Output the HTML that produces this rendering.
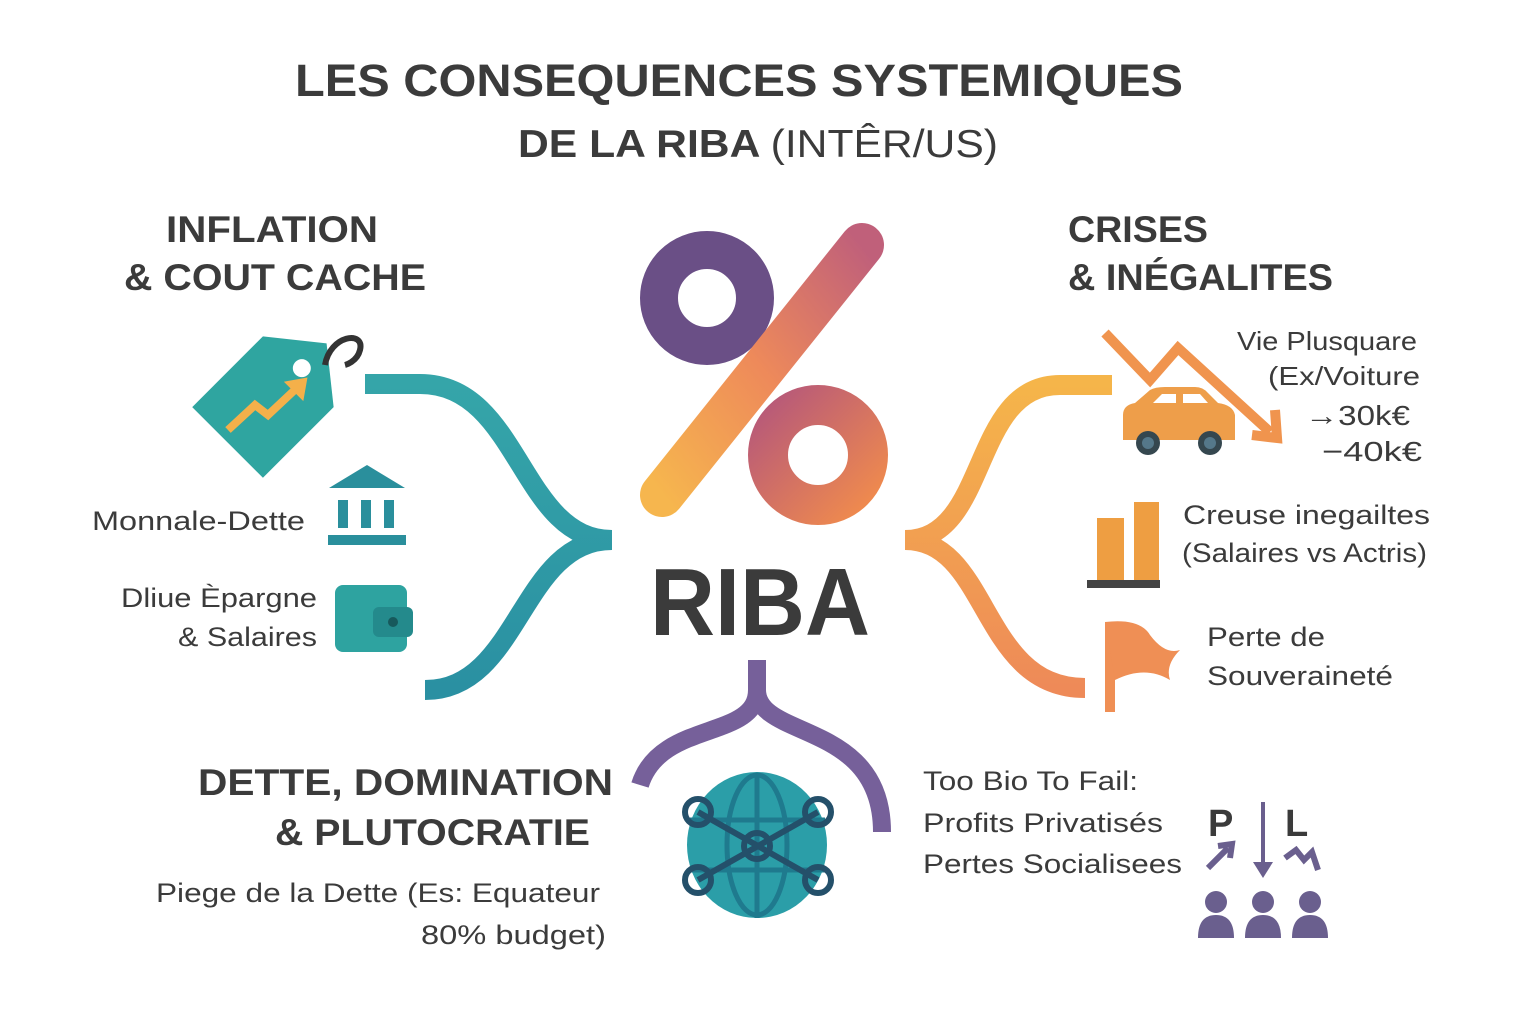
<!DOCTYPE html>
<html><head><meta charset="utf-8"><style>
html,body{margin:0;padding:0;background:#fff;}
svg{display:block}
text{font-family:"Liberation Sans","DejaVu Sans",sans-serif;fill:#3b3b3b}
</style></head><body>
<svg width="1536" height="1024" viewBox="0 0 1536 1024" xmlns="http://www.w3.org/2000/svg">
<defs>
<linearGradient id="sl" x1="0" y1="1" x2="1" y2="0"><stop offset="0" stop-color="#f6b64e"/><stop offset="0.5" stop-color="#ee8a5a"/><stop offset="1" stop-color="#c0607a"/></linearGradient>
<linearGradient id="c2" x1="0" y1="0" x2="1" y2="1"><stop offset="0" stop-color="#b85a78"/><stop offset="1" stop-color="#ef8a4e"/></linearGradient>
<linearGradient id="tl" x1="0" y1="0" x2="0" y2="1"><stop offset="0" stop-color="#35a5a9"/><stop offset="1" stop-color="#2a90a2"/></linearGradient>
<linearGradient id="or" x1="0" y1="0" x2="0" y2="1"><stop offset="0" stop-color="#f5b54a"/><stop offset="1" stop-color="#ee8a58"/></linearGradient>
</defs>

<text x="295" y="96" font-size="45" font-weight="bold" textLength="888" lengthAdjust="spacingAndGlyphs">LES CONSEQUENCES SYSTEMIQUES</text>
<text x="518" y="157" font-size="39" font-weight="bold" textLength="480" lengthAdjust="spacingAndGlyphs">DE LA RIBA <tspan font-weight="normal">(INTÊR/US)</tspan></text>

<text x="166" y="242" font-size="37" font-weight="bold" textLength="212" lengthAdjust="spacingAndGlyphs">INFLATION</text>
<text x="124" y="290" font-size="37" font-weight="bold" textLength="302" lengthAdjust="spacingAndGlyphs">&amp; COUT CACHE</text>
<text x="1068" y="242" font-size="37" font-weight="bold" textLength="140" lengthAdjust="spacingAndGlyphs">CRISES</text>
<text x="1068" y="290" font-size="37" font-weight="bold" textLength="265" lengthAdjust="spacingAndGlyphs">&amp; INÉGALITES</text>

<!-- percent -->
<circle cx="707" cy="298" r="48" fill="none" stroke="#6a4f86" stroke-width="38"/>
<line x1="662" y1="495" x2="862" y2="245" stroke="url(#sl)" stroke-width="44" stroke-linecap="round"/>
<circle cx="818" cy="455" r="50" fill="none" stroke="url(#c2)" stroke-width="40"/>
<text x="650" y="635" font-size="96" font-weight="bold" fill="#383838" textLength="220" lengthAdjust="spacingAndGlyphs">RIBA</text>

<!-- braces -->
<path d="M365 384 L420 384 C520 384 520 540 612 540 M612 540 C520 540 520 690 425 690" fill="none" stroke="url(#tl)" stroke-width="20"/>
<path d="M1112 385 L1060 385 C970 385 990 540 905 540 M905 540 C990 540 980 688 1085 688" fill="none" stroke="url(#or)" stroke-width="20"/>
<path d="M757 660 L757 690 C757 740 660 720 640 785 M757 690 C757 740 882 720 882 832" fill="none" stroke="#76609a" stroke-width="18"/>

<!-- tag -->
<g transform="rotate(-45 270 400)">
<path d="M210 350 L310 350 L350 400 L310 450 L210 450 Z" fill="#2fa5a0"/>
<circle cx="315" cy="400" r="9" fill="#fff"/>
</g>
<path d="M325 365 C330 335 365 330 360 350 C357 362 345 365 345 365" fill="none" stroke="#333" stroke-width="6"/>
<path d="M228 430 L255 405 L268 415 L300 385" fill="none" stroke="#f4b04a" stroke-width="8"/>
<path d="M288 383 L305 380 L302 397 Z" fill="#f4b04a" stroke="#f4b04a" stroke-width="4"/>

<!-- bank -->
<path d="M367 465 L405 488 L329 488 Z" fill="#2a8f9c"/>
<rect x="338" y="500" width="10" height="28" fill="#2a8f9c"/><rect x="361" y="500" width="10" height="28" fill="#2a8f9c"/><rect x="384" y="500" width="10" height="28" fill="#2a8f9c"/>
<rect x="328" y="535" width="78" height="10" fill="#2a8f9c"/>
<text x="92" y="530" font-size="27" textLength="213" lengthAdjust="spacingAndGlyphs">Monnale-Dette</text>

<!-- wallet -->
<rect x="335" y="585" width="72" height="67" rx="8" fill="#2ea3a0"/>
<rect x="373" y="607" width="40" height="30" rx="6" fill="#248a8c"/>
<circle cx="393" cy="622" r="5" fill="#17595c"/>
<text x="121" y="607" font-size="27" textLength="196" lengthAdjust="spacingAndGlyphs">Dliue Èpargne</text>
<text x="178" y="646" font-size="27" textLength="139" lengthAdjust="spacingAndGlyphs">&amp; Salaires</text>

<!-- car & arrow -->
<path d="M1105 333 L1150 380 L1178 348 L1270 432" fill="none" stroke="#f0944e" stroke-width="10"/>
<path d="M1252 435 L1277 438 L1275 410" fill="none" stroke="#f0944e" stroke-width="10"/>
<path d="M1123 440 L1123 415 Q1123 405 1135 403 L1150 390 Q1155 387 1165 387 L1195 387 Q1203 387 1208 393 L1218 403 Q1233 405 1235 415 L1235 440 Z" fill="#ee9e4a"/>
<path d="M1153 403 L1162 394 L1176 394 L1176 403 Z M1183 394 L1200 394 L1208 403 L1183 403 Z" fill="#fff"/>
<circle cx="1148" cy="443" r="12" fill="#35474f"/><circle cx="1148" cy="443" r="6" fill="#55788a"/>
<circle cx="1210" cy="443" r="12" fill="#35474f"/><circle cx="1210" cy="443" r="6" fill="#55788a"/>
<text x="1237" y="350" font-size="26" textLength="180" lengthAdjust="spacingAndGlyphs">Vie Plusquare</text>
<text x="1268" y="385" font-size="26" textLength="152" lengthAdjust="spacingAndGlyphs">(Ex/Voiture</text>
<text x="1305" y="425" font-size="28" textLength="105" lengthAdjust="spacingAndGlyphs">→30k€</text>
<text x="1322" y="461" font-size="28" textLength="100" lengthAdjust="spacingAndGlyphs">−40k€</text>

<!-- bars -->
<rect x="1097" y="518" width="27" height="62" fill="#ee9e42"/>
<rect x="1134" y="502" width="25" height="78" fill="#ee9e42"/>
<rect x="1087" y="580" width="73" height="8" fill="#444"/>
<text x="1183" y="524" font-size="27" textLength="247" lengthAdjust="spacingAndGlyphs">Creuse inegailtes</text>
<text x="1182" y="562" font-size="27" textLength="245" lengthAdjust="spacingAndGlyphs">(Salaires vs Actris)</text>

<!-- flag -->
<rect x="1105" y="622" width="10" height="90" fill="#ef8f55"/>
<path d="M1105 622 Q1140 618 1150 635 Q1165 655 1180 650 Q1165 665 1170 680 Q1145 665 1115 680 Z" fill="#ef8f55"/>
<text x="1207" y="646" font-size="27" textLength="118" lengthAdjust="spacingAndGlyphs">Perte de</text>
<text x="1207" y="685" font-size="27" textLength="186" lengthAdjust="spacingAndGlyphs">Souveraineté</text>

<!-- bottom left -->
<text x="198" y="795" font-size="37" font-weight="bold" textLength="415" lengthAdjust="spacingAndGlyphs">DETTE, DOMINATION</text>
<text x="275" y="845" font-size="37" font-weight="bold" textLength="315" lengthAdjust="spacingAndGlyphs">&amp; PLUTOCRATIE</text>
<text x="156" y="902" font-size="27" textLength="444" lengthAdjust="spacingAndGlyphs">Piege de la Dette (Es: Equateur</text>
<text x="421" y="944" font-size="27" textLength="185" lengthAdjust="spacingAndGlyphs">80% budget)</text>

<!-- globe -->
<ellipse cx="757" cy="845" rx="70" ry="73" fill="#2b9ea8"/>
<g fill="none" stroke="#1f7a8e" stroke-width="5">
<ellipse cx="757" cy="845" rx="30" ry="70"/>
<line x1="757" y1="775" x2="757" y2="918"/>
<line x1="690" y1="820" x2="825" y2="820"/><line x1="690" y1="870" x2="825" y2="870"/>
</g>
<g fill="none" stroke="#24506a" stroke-width="6">
<line x1="698" y1="812" x2="818" y2="880"/><line x1="818" y1="812" x2="698" y2="880"/>
<circle cx="698" cy="812" r="13"/><circle cx="818" cy="812" r="13"/><circle cx="698" cy="880" r="13"/><circle cx="818" cy="880" r="13"/><circle cx="757" cy="846" r="13"/>
</g>
<text x="923" y="790" font-size="27" textLength="215" lengthAdjust="spacingAndGlyphs">Too Bio To Fail:</text>
<text x="923" y="832" font-size="27" textLength="240" lengthAdjust="spacingAndGlyphs">Profits Privatisés</text>
<text x="923" y="873" font-size="27" textLength="259" lengthAdjust="spacingAndGlyphs">Pertes Socialisees</text>

<!-- P | L -->
<text x="1208" y="836" font-size="38" font-weight="bold">P</text>
<line x1="1263" y1="802" x2="1263" y2="870" stroke="#6a5f8e" stroke-width="4"/>
<path d="M1253 862 L1263 878 L1273 862 Z" fill="#6a5f8e"/>
<text x="1285" y="836" font-size="38" font-weight="bold">L</text>
<path d="M1208 868 L1228 848 M1218 846 L1232 844 L1230 858" fill="none" stroke="#6a5f8e" stroke-width="6"/>
<path d="M1285 858 L1296 850 L1304 860 L1312 852 L1318 870" fill="none" stroke="#6a5f8e" stroke-width="6"/>
<g fill="#6a5f8e">
<circle cx="1216" cy="902" r="11"/><path d="M1198 938 Q1198 915 1216 915 Q1234 915 1234 938 Z"/>
<circle cx="1263" cy="902" r="11"/><path d="M1245 938 Q1245 915 1263 915 Q1281 915 1281 938 Z"/>
<circle cx="1310" cy="902" r="11"/><path d="M1292 938 Q1292 915 1310 915 Q1328 915 1328 938 Z"/>
</g>
</svg>
</body></html>
